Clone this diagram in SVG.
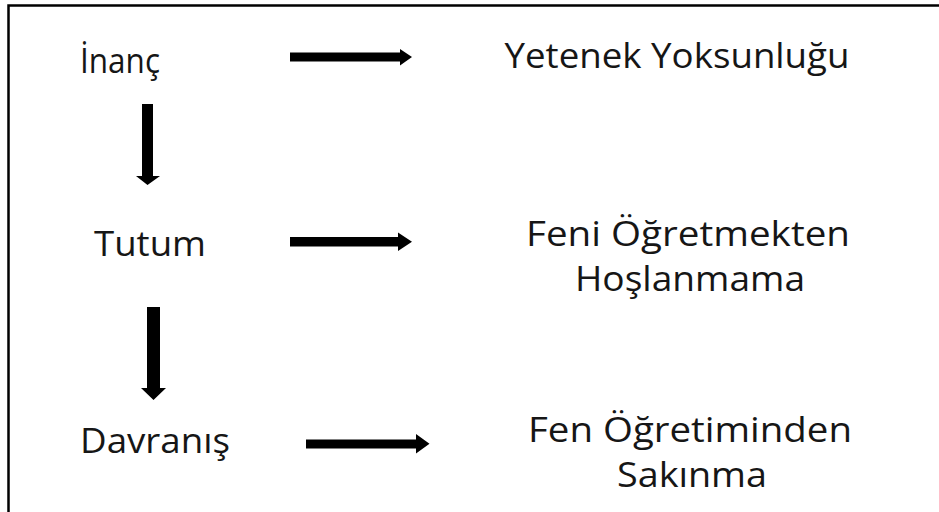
<svg xmlns="http://www.w3.org/2000/svg" width="939" height="512" viewBox="0 0 939 512">
  <style>
    .lbl { font-family: "Open Sans", "Noto Sans", "DejaVu Sans", sans-serif; font-size: 35px; fill: #161616; }
    .right { text-anchor: middle; }
    .arrow { fill: #000; }
  </style>
  <rect x="0" y="0" width="939" height="512" fill="#fff"/>
  <!-- frame: only top and left edges fall inside the canvas -->
  <path d="M8.5 520 V5.5 H945" fill="none" stroke="#000" stroke-width="2.5"/>

  <g id="inanc"><text class="lbl" x="80" y="73" textLength="80" lengthAdjust="spacingAndGlyphs">İnanç</text></g>
  <g id="tutum"><text class="lbl" x="94" y="256" textLength="112" lengthAdjust="spacingAndGlyphs">Tutum</text></g>
  <g id="davranis"><text class="lbl" x="80" y="453" textLength="150" lengthAdjust="spacingAndGlyphs">Davranış</text></g>
  <g id="yetenek"><text class="lbl right" x="677" y="68" textLength="345" lengthAdjust="spacingAndGlyphs">Yetenek Yoksunluğu</text></g>
  <g id="hoslanmama">
    <text class="lbl right" x="688" y="245.5" textLength="324" lengthAdjust="spacingAndGlyphs">Feni Öğretmekten</text>
    <text class="lbl right" x="690" y="290.5" textLength="230" lengthAdjust="spacingAndGlyphs">Hoşlanmama</text>
  </g>
  <g id="sakinma">
    <text class="lbl right" x="690" y="442" textLength="324" lengthAdjust="spacingAndGlyphs">Fen Öğretiminden</text>
    <text class="lbl right" x="692" y="487" textLength="150" lengthAdjust="spacingAndGlyphs">Sakınma</text>
  </g>

  <g id="connectors" class="arrow">
    <!-- horizontal block arrows -->
    <polygon points="290,52.5 400,52.5 400,49 412,57 400,65.5 400,61.5 290,61.5"/>
    <polygon points="290,237 398,237 398,232.5 412,241.7 398,251 398,246.5 290,246.5"/>
    <polygon points="306,439.5 416,439.5 416,434 429.5,443.8 416,453.5 416,448.5 306,448.5"/>
    <!-- vertical block arrows -->
    <polygon points="142,104 153,104 153,176 160,176 147.5,185 136,176 142,176"/>
    <polygon points="147,307 160,307 160,388 166,388 153.5,400 141,388 147,388"/>
  </g>
</svg>
